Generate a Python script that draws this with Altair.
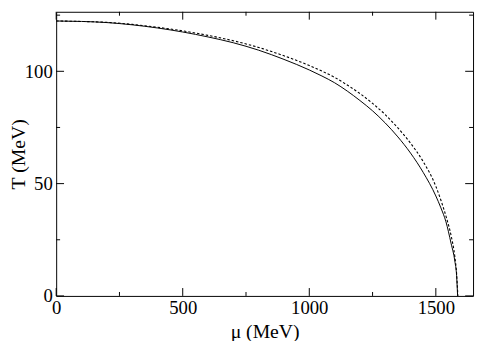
import altair as alt
import pandas as pd

# Solid curve (mu in MeV, T in MeV)
mu_solid = [0, 100, 200, 300, 400, 500, 600, 700, 800, 900, 1000, 1050, 1100, 1150,
            1200, 1250, 1300, 1350, 1400, 1450, 1500, 1520, 1540, 1560, 1575, 1582, 1586]
T_solid = [122.4, 122.2, 121.7, 120.7, 119.3, 117.5, 115.3, 112.7, 109.4, 105.3,
           100.6, 97.9, 94.9, 91.2, 87.0, 82.4, 77.0, 70.8, 63.6, 55.0, 44.5, 39.2,
           33.0, 23.5, 15.5, 9.0, 0.0]

# Dashed curve
mu_dash = [0, 100, 200, 300, 400, 500, 600, 700, 800, 900, 1000, 1050, 1100, 1150,
           1200, 1250, 1300, 1350, 1400, 1450, 1500, 1520, 1540, 1560, 1575, 1582, 1587]
T_dash = [122.4, 122.2, 121.8, 120.9, 119.6, 118.0, 116.0, 113.6, 110.6, 106.9,
          102.6, 100.1, 97.3, 93.9, 90.1, 85.7, 80.7, 74.8, 68.0, 59.8, 48.8, 42.6,
          35.5, 27.0, 17.5, 10.0, 0.0]

x_major = [0, 500, 1000, 1500]
x_minor = [250, 750, 1250]
y_major = [0, 50, 100]
y_minor = [25, 75, 125]

W, H = 424, 289
XDOM = [0, 1647]
YDOM = [0, 126.5]
FONT = "Liberation Serif"

xs = alt.Scale(domain=XDOM, nice=False, zero=False)
ys = alt.Scale(domain=YDOM, nice=False, zero=False)

df_s = pd.DataFrame({"mu": mu_solid, "T": T_solid})
df_d = pd.DataFrame({"mu": mu_dash, "T": T_dash})

xaxis = alt.Axis(values=x_major, format="d", ticks=False, domain=False, grid=False,
                 labelFont=FONT, labelFontSize=19, labelColor="black",
                 labelPadding=3, title="μ (MeV)", titleFont=FONT,
                 titleFontSize=20, titleFontWeight="normal", titleColor="black",
                 titlePadding=4, labelFlush=False)
yaxis = alt.Axis(values=y_major, format="d", ticks=False, domain=False, grid=False,
                 labelFont=FONT, labelFontSize=19, labelColor="black",
                 labelPadding=4, title="T (MeV)", titleFont=FONT,
                 titleFontSize=20, titleFontWeight="normal", titleColor="black",
                 titleX=-32, titleBaseline="alphabetic", labelFlush=False)

solid = alt.Chart(df_s).mark_line(color="black", strokeWidth=1, clip=True,
                                  interpolate="monotone").encode(
    x=alt.X("mu:Q", scale=xs, axis=xaxis),
    y=alt.Y("T:Q", scale=ys, axis=yaxis),
    order="mu:Q",
)
dashed = alt.Chart(df_d).mark_line(color="black", strokeWidth=1.1,
                                   strokeDash=[2.5, 2], clip=True,
                                   interpolate="monotone").encode(
    x=alt.X("mu:Q", scale=xs),
    y=alt.Y("T:Q", scale=ys),
    order="mu:Q",
)

def xticks(vals, length, top):
    d = pd.DataFrame({"v": vals})
    if top:
        yv, y2v = alt.value(0), alt.value(length)
    else:
        yv, y2v = alt.value(H), alt.value(H - length)
    return alt.Chart(d).mark_rule(color="black", strokeWidth=1).encode(
        x=alt.X("v:Q", scale=xs), y=yv, y2=y2v)

def yticks(vals, length, right):
    d = pd.DataFrame({"v": vals})
    if right:
        xv, x2v = alt.value(W), alt.value(W - length)
    else:
        xv, x2v = alt.value(0), alt.value(length)
    return alt.Chart(d).mark_rule(color="black", strokeWidth=1).encode(
        y=alt.Y("v:Q", scale=ys), x=xv, x2=x2v)

layers = [
    xticks(x_major, 8, False), xticks(x_minor, 4, False),
    xticks(x_major, 8, True), xticks(x_minor, 4, True),
    yticks(y_major, 8, False), yticks(y_minor, 4, False),
    yticks(y_major, 8, True), yticks(y_minor, 4, True),
    dashed, solid,
]

chart = alt.layer(*layers).properties(
    width=W, height=H,
    autosize=alt.AutoSizeParams(type="none"),
    padding={"left": 49, "top": 1, "right": 3, "bottom": 43},
    background="white",
).configure_view(stroke="black", strokeWidth=1)

chart.save("out.html", embed_options={"renderer": "svg", "actions": False})
